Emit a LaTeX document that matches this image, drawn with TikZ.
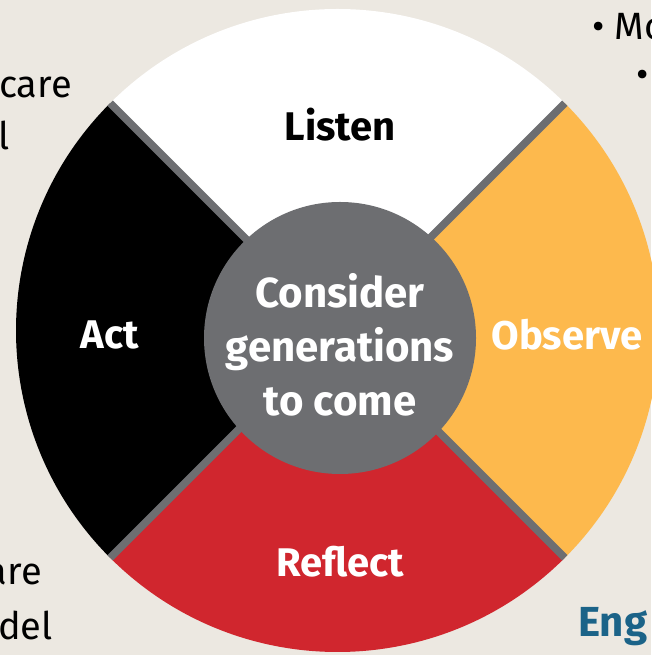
\documentclass[tikz,border=0pt]{standalone}
\usepackage{fontspec}
\setmainfont{Fira Sans}
\usetikzlibrary{calc}
\definecolor{paper}{HTML}{ECE8E1}
\definecolor{hubgray}{HTML}{6D6E71}
\definecolor{sungold}{HTML}{FDB94D}
\definecolor{earthred}{HTML}{D0262E}
\definecolor{slideblue}{HTML}{1B6388}

\begin{document}
\begin{tikzpicture}[x=1pt,y=1pt,
  split/.style={draw=hubgray,line width=7.5pt},
  quadlabel/.style={font=\fontsize{40}{48}\selectfont\bfseries,text=white},
  hub/.style={circle,fill=hubgray,minimum size=272pt,inner sep=0pt},
  hubtext/.style={font=\fontsize{42}{54}\selectfont\bfseries,text=white,align=center},
  sidetext/.style={font=\fontsize{38}{46}\selectfont,text=black,inner sep=0pt}]

\useasboundingbox (0,0) rectangle (651,655);
\fill[paper] (0,0) rectangle (651,655);

% the four quarters
\coordinate (c) at (337.5,324.5);
\fill[white]    (c) -- ++(45:321.5)  arc[start angle=45,end angle=135,radius=321.5] -- cycle;
\fill[black]    (c) -- ++(135:321.5) arc[start angle=135,end angle=225,radius=321.5] -- cycle;
\fill[earthred] (c) -- ++(225:321.5) arc[start angle=225,end angle=315,radius=321.5] -- cycle;
\fill[sungold]  (c) -- ++(-45:321.5) arc[start angle=-45,end angle=45,radius=321.5] -- cycle;

\foreach \a/\n in {45/ne,135/nw,225/sw,315/se}
  \coordinate (rim-\n) at ($(c)+(\a:321.5)$);
\draw[split] (rim-nw) -- (rim-se);
\draw[split] (rim-ne) -- (rim-sw);

\node[hub] (hub) at (340,317) {};
\node[hubtext] (hubtext) at (340,310) {Consider\\generations\\to come};

\node[quadlabel,text=black] (listen)  at (340,530) {Listen};
\node[quadlabel]            (act)     at (110,320) {Act};
\node[quadlabel]            (observe) at (567,320) {Observe};
\node[quadlabel]            (reflect) at (340,93)  {Reflect};

% slide text around the wheel
\node[sidetext,anchor=base east] (care) at (72,557) {care};
\node[sidetext,anchor=base west] (ell)  at (-2,505) {l};
\node[sidetext,anchor=base east] (are)  at (42,70)  {are};
\node[sidetext,anchor=base east] (del)  at (53,15)  {del};
\node[sidetext,anchor=base west] (mo)   at (592,615) {\textbullet\ Mo};
\node[sidetext,anchor=base west] (dot)  at (636,567) {\textbullet};
\node[sidetext,anchor=base west,font=\fontsize{42}{50}\selectfont\bfseries,text=slideblue] (eng) at (578,18) {Eng};
\end{tikzpicture}
\end{document}
